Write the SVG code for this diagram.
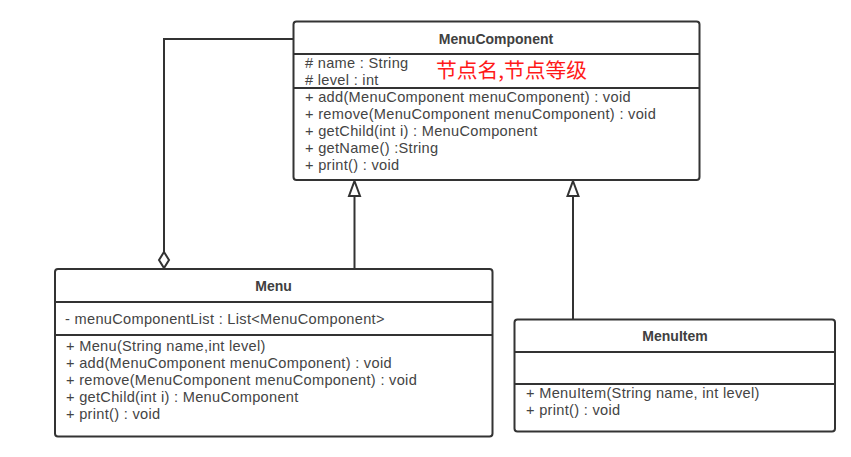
<svg xmlns="http://www.w3.org/2000/svg" width="851" height="457" viewBox="0 0 851 457">
<style>
.box{fill:#ffffff;stroke:#333333;stroke-width:2}
.sep{stroke:#333333;stroke-width:2}
.t{font-family:"Liberation Sans",Arial,sans-serif;font-size:14.6px;letter-spacing:0.3px;fill:#444444}
.h{font-family:"Liberation Sans",Arial,sans-serif;font-size:14px;font-weight:bold;fill:#404040;text-anchor:middle}
.c{fill:none;stroke:#333333;stroke-width:2}
.red{font-family:"Noto Sans CJK SC",sans-serif;font-size:20px;fill:#ff1a1a}
</style>
<rect width="851" height="457" fill="#ffffff"/>
<g id="connectors">
<polyline class="c" points="293,39 164,39 164,252"/>
<polygon points="164,252 169,260 164,268 159,260" fill="#ffffff" stroke="#333333" stroke-width="2"/>
<line class="c" x1="354.5" y1="196" x2="354.5" y2="269"/>
<polygon points="354.5,181 360,196 349,196" fill="#ffffff" stroke="#333333" stroke-width="2"/>
<line class="c" x1="573" y1="196" x2="573" y2="319"/>
<polygon points="573,181 578.5,196 567.5,196" fill="#ffffff" stroke="#333333" stroke-width="2"/>
</g>
<g id="MenuComponent">
<rect class="box" x="293.5" y="21.5" width="406" height="158.5" rx="3"/>
<line class="sep" x1="293.5" y1="54" x2="699.5" y2="54"/>
<line class="sep" x1="293.5" y1="88" x2="699.5" y2="88"/>
<text class="h" x="496" y="44">MenuComponent</text>
<text class="t" x="305" y="68">#&#160;name : String</text>
<text class="t" x="305" y="85">#&#160;level : int</text>
<text class="t" x="305" y="102">+ add(MenuComponent menuComponent) : void</text>
<text class="t" x="305" y="119">+ remove(MenuComponent menuComponent) : void</text>
<text class="t" x="305" y="136">+ getChild(int i) : MenuComponent</text>
<text class="t" x="305" y="153">+ getName() :String</text>
<text class="t" x="305" y="170">+ print() : void</text>
<text class="red" x="436" y="78" textLength="151" lengthAdjust="spacingAndGlyphs">节点名,节点等级</text>
</g>
<g id="Menu">
<rect class="box" x="55" y="269" width="437.5" height="167.5" rx="3"/>
<line class="sep" x1="55" y1="302" x2="492.5" y2="302"/>
<line class="sep" x1="55" y1="335" x2="492.5" y2="335"/>
<text class="h" x="273.5" y="291">Menu</text>
<text class="t" x="65" y="324">- menuComponentList : List&lt;MenuComponent&gt;</text>
<text class="t" x="66" y="351">+ Menu(String name,int level)</text>
<text class="t" x="66" y="368">+ add(MenuComponent menuComponent) : void</text>
<text class="t" x="66" y="385">+ remove(MenuComponent menuComponent) : void</text>
<text class="t" x="66" y="402">+ getChild(int i) : MenuComponent</text>
<text class="t" x="66" y="419">+ print() : void</text>
</g>
<g id="MenuItem">
<rect class="box" x="514.5" y="319.5" width="320.5" height="112" rx="3"/>
<line class="sep" x1="514.5" y1="352" x2="835" y2="352"/>
<line class="sep" x1="514.5" y1="384" x2="835" y2="384"/>
<text class="h" x="675" y="341">MenuItem</text>
<text class="t" x="526" y="398">+ MenuItem(String name, int level)</text>
<text class="t" x="526" y="415">+ print() : void</text>
</g>
</svg>
